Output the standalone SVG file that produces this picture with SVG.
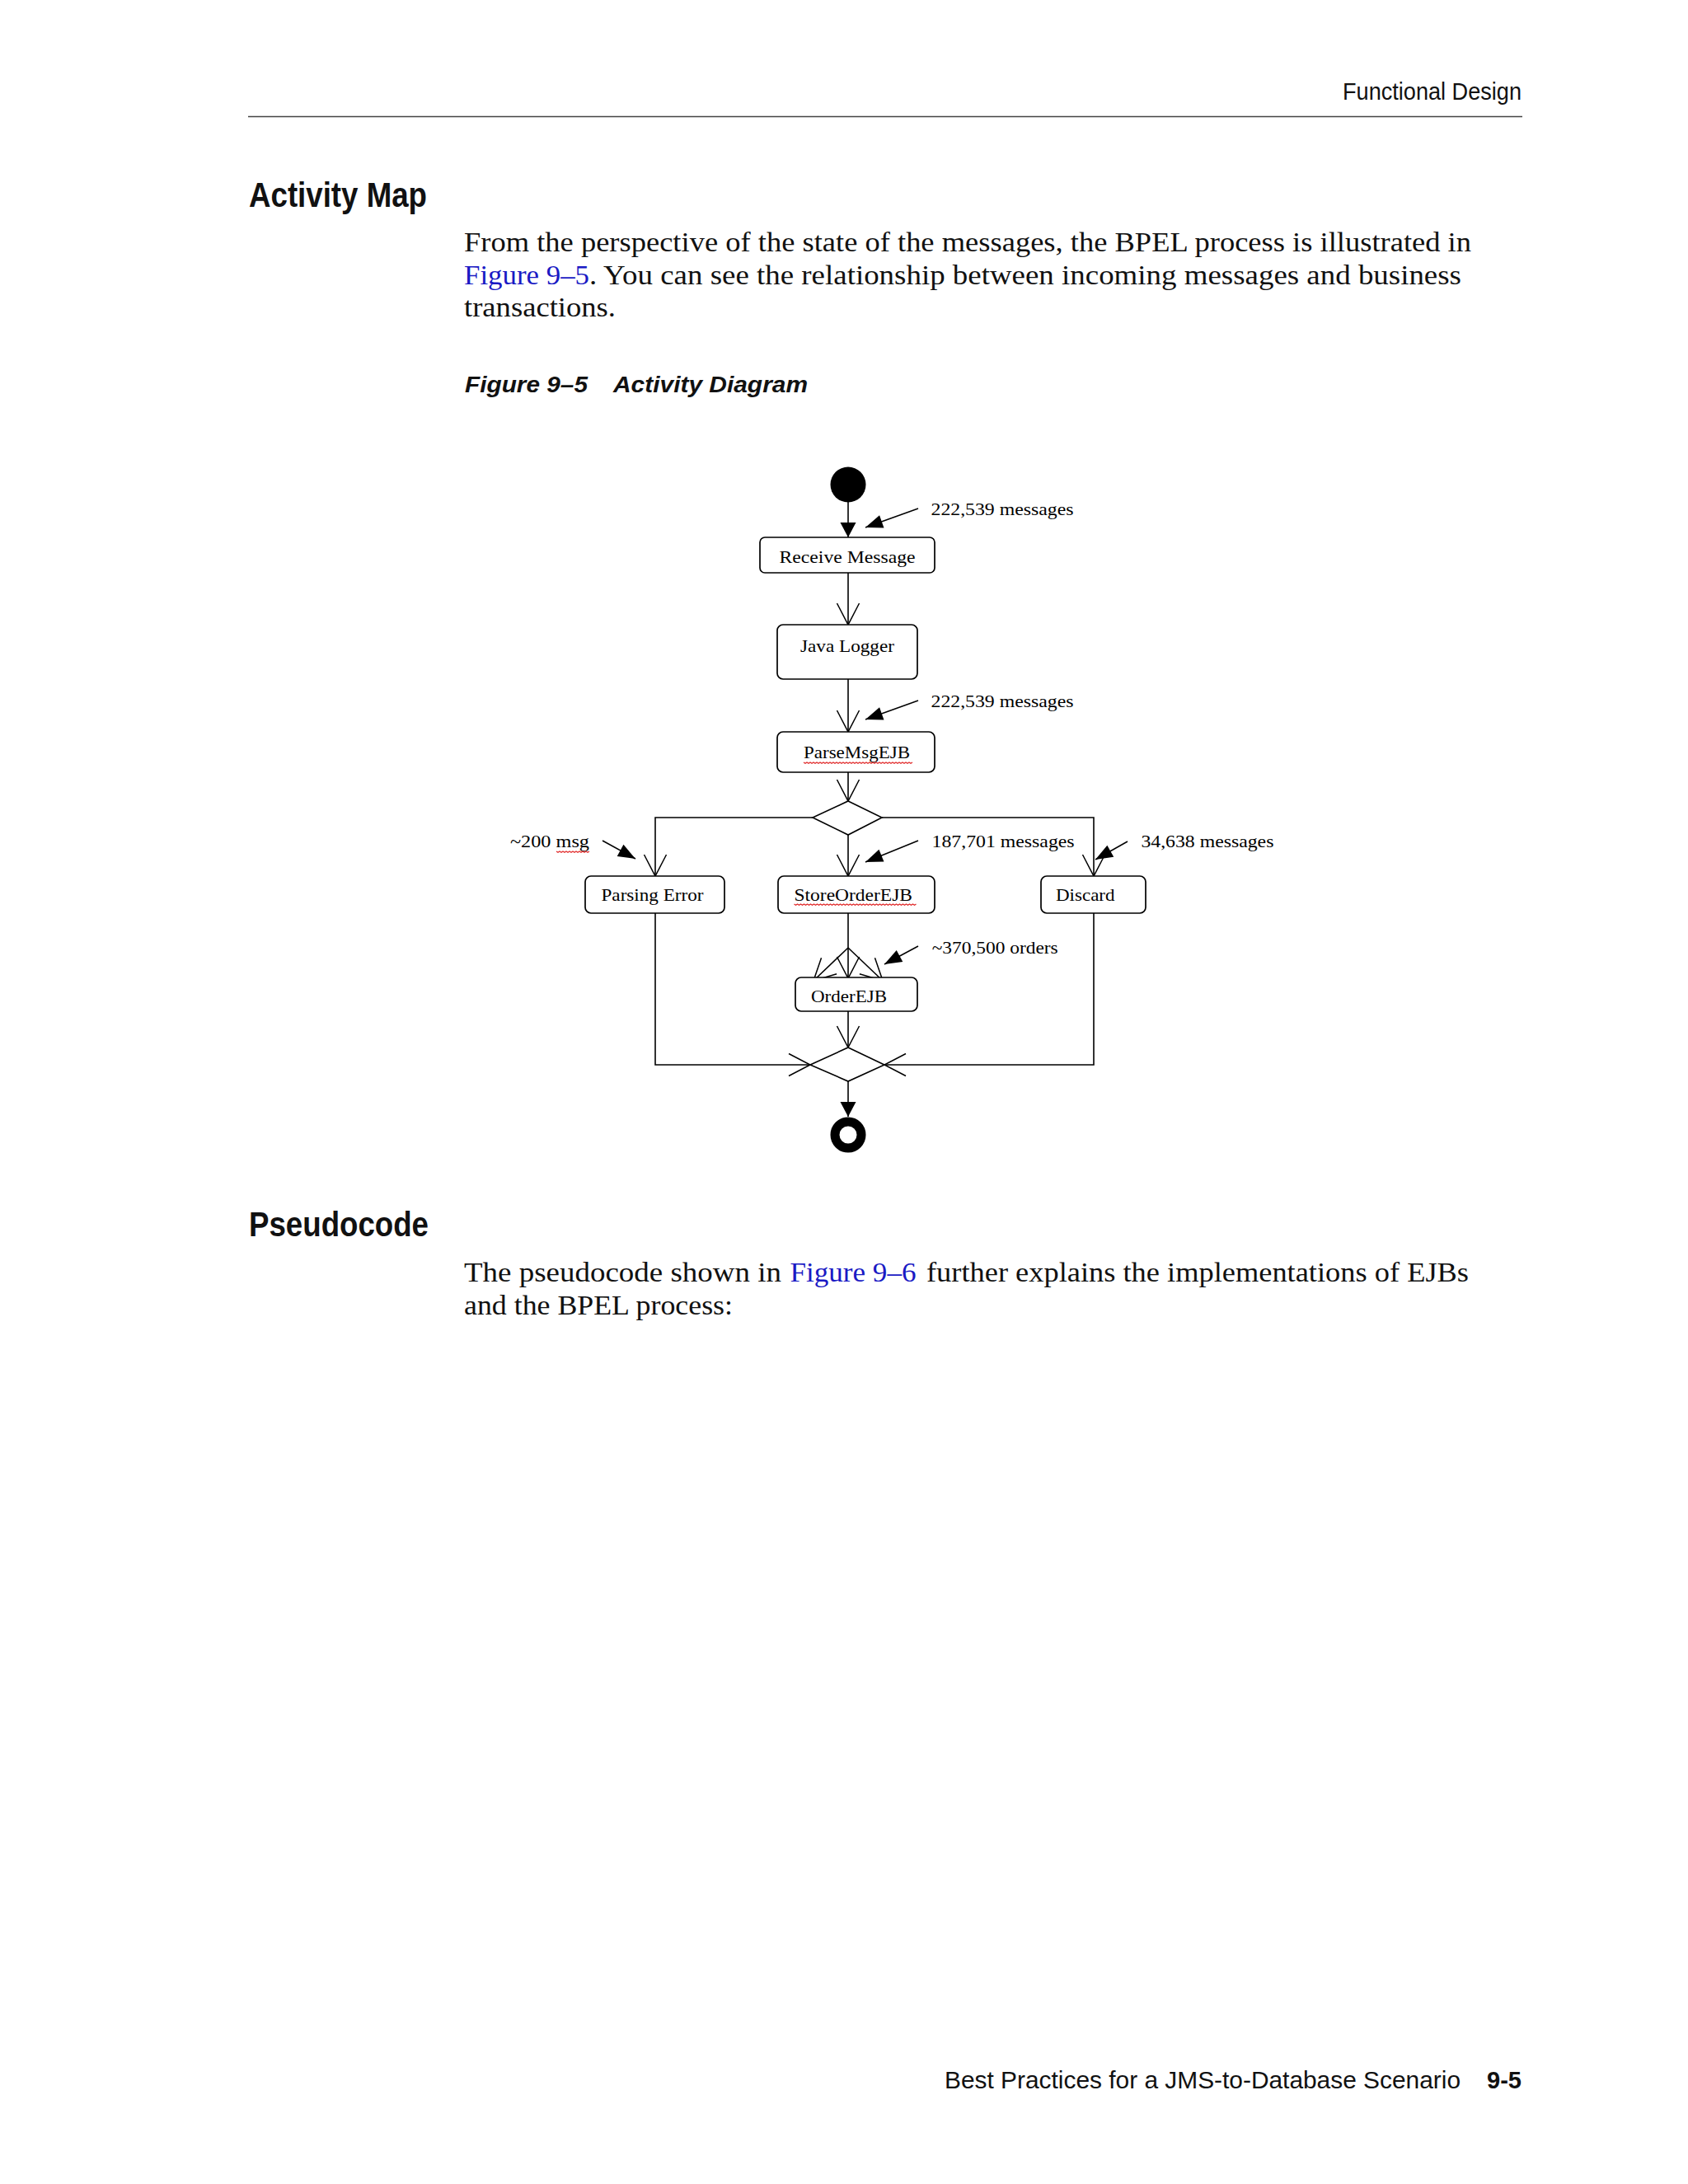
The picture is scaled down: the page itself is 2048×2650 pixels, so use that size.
<svg xmlns="http://www.w3.org/2000/svg" width="2048" height="2650" viewBox="0 0 2048 2650">
<style>
.hdr{font-family:"Liberation Sans",Arial,sans-serif;font-size:29px;fill:#111}
.h2{font-family:"Liberation Sans",Arial,sans-serif;font-size:42px;font-weight:bold;fill:#111}
.body{font-family:"Liberation Serif","Times New Roman",serif;font-size:33px;fill:#111}
.link{font-family:"Liberation Serif","Times New Roman",serif;font-size:33px;fill:#1a1ac4}
.cap{font-family:"Liberation Sans",Arial,sans-serif;font-size:28px;font-weight:bold;font-style:italic;fill:#111}
.foot{font-family:"Liberation Sans",Arial,sans-serif;font-size:29px;fill:#111}
.footb{font-family:"Liberation Sans",Arial,sans-serif;font-size:29px;font-weight:bold;fill:#111}
.lbl{font-family:"Liberation Serif","Times New Roman",serif;font-size:21px;fill:#000}
.box{fill:#fff;stroke:#000;stroke-width:1.7}
.conn{fill:none;stroke:#000;stroke-width:1.6}
.ann{fill:none;stroke:#000;stroke-width:1.5}
.sq{fill:none;stroke:#e02828;stroke-width:1.2}
</style>
<defs>
<marker id="open" markerUnits="userSpaceOnUse" markerWidth="30" markerHeight="30" refX="28" refY="15" orient="auto" overflow="visible">
<path d="M2,1.5 L28,15 L2,28.5" fill="none" stroke="#000" stroke-width="1.5"/>
</marker>
<marker id="solid" markerUnits="userSpaceOnUse" markerWidth="20" markerHeight="20" refX="18" refY="10" orient="auto" overflow="visible">
<path d="M0,0.5 L18,10 L0,19.5 Z" fill="#000"/>
</marker>
<marker id="annhead" markerUnits="userSpaceOnUse" markerWidth="22" markerHeight="18" refX="21" refY="9" orient="auto" overflow="visible">
<path d="M0,1 L21,9 L0,17 Z" fill="#000"/>
</marker>
</defs>
<rect x="0" y="0" width="2048" height="2650" fill="#fff"/>

<g id="page-header">
<text class="hdr" x="1629" y="121" textLength="217" lengthAdjust="spacingAndGlyphs">Functional Design</text>
<line x1="301" y1="141.5" x2="1847" y2="141.5" stroke="#444" stroke-width="1.6"/>
</g>

<g id="section-activity-map">
<text class="h2" x="302" y="251" textLength="216" lengthAdjust="spacingAndGlyphs">Activity Map</text>
<text class="body" x="563" y="305" textLength="1222" lengthAdjust="spacingAndGlyphs">From the perspective of the state of the messages, the BPEL process is illustrated in</text>
<text class="link" x="563" y="345" textLength="152" lengthAdjust="spacingAndGlyphs">Figure 9–5</text>
<text class="body" x="715" y="345" textLength="1058" lengthAdjust="spacingAndGlyphs">. You can see the relationship between incoming messages and business</text>
<text class="body" x="563" y="384" textLength="184" lengthAdjust="spacingAndGlyphs">transactions.</text>
<text class="cap" x="564" y="476" textLength="149" lengthAdjust="spacingAndGlyphs">Figure 9–5</text>
<text class="cap" x="744" y="476" textLength="236" lengthAdjust="spacingAndGlyphs">Activity Diagram</text>
</g>

<g id="connectors">
<path class="conn" d="M1029,609 L1029,652" marker-end="url(#solid)"/>
<path class="conn" d="M1029,695 L1029,758" marker-end="url(#open)"/>
<path class="conn" d="M1029,824 L1029,888" marker-end="url(#open)"/>
<path class="conn" d="M1029,937 L1029,972" marker-end="url(#open)"/>
<path class="conn" d="M986,992 L795,992 L795,1063" marker-end="url(#open)"/>
<path class="conn" d="M1029,1013 L1029,1063" marker-end="url(#open)"/>
<path class="conn" d="M1070,992 L1327,992 L1327,1063" marker-end="url(#open)"/>
<path class="conn" d="M1029,1108 L1029,1150"/>
<path class="conn" d="M1029,1150 L987,1190" marker-end="url(#open)"/>
<path class="conn" d="M1029,1150 L1029,1187" marker-end="url(#open)"/>
<path class="conn" d="M1029,1150 L1071,1190" marker-end="url(#open)"/>
<path class="conn" d="M1029,1227 L1029,1271" marker-end="url(#open)"/>
<path class="conn" d="M795,1108 L795,1292 L983,1292" marker-end="url(#open)"/>
<path class="conn" d="M1327,1108 L1327,1292 L1073,1292" marker-end="url(#open)"/>
<path class="conn" d="M1029,1312 L1029,1355" marker-end="url(#solid)"/>
<path class="ann" d="M1114,617 L1050,640" marker-end="url(#annhead)"/>
<path class="ann" d="M1114,850 L1050,873" marker-end="url(#annhead)"/>
<path class="ann" d="M731,1020 L771,1042" marker-end="url(#annhead)"/>
<path class="ann" d="M1114,1020 L1050,1046" marker-end="url(#annhead)"/>
<path class="ann" d="M1368,1021 L1329,1043" marker-end="url(#annhead)"/>
<path class="ann" d="M1114,1148 L1073,1170" marker-end="url(#annhead)"/>
</g>

<g id="node-start">
<circle cx="1029" cy="588" r="21.5" fill="#000"/>
</g>
<g id="node-receive-message">
<rect class="box" x="922" y="652" width="212" height="43" rx="6"/>
<text class="lbl" x="945.5" y="683" textLength="165" lengthAdjust="spacingAndGlyphs">Receive Message</text>
</g>
<g id="node-java-logger">
<rect class="box" x="943" y="758" width="170" height="66" rx="7"/>
<text class="lbl" x="971" y="791" textLength="114" lengthAdjust="spacingAndGlyphs">Java Logger</text>
</g>
<g id="node-parsemsgejb">
<rect class="box" x="943" y="888" width="191" height="49" rx="7"/>
<text class="lbl" x="975" y="920" textLength="129" lengthAdjust="spacingAndGlyphs">ParseMsgEJB</text>
<path class="sq" d="M975,925 l2,1.3 2,-1.3 2,1.3 2,-1.3 2,1.3 2,-1.3 2,1.3 2,-1.3 2,1.3 2,-1.3 2,1.3 2,-1.3 2,1.3 2,-1.3 2,1.3 2,-1.3 2,1.3 2,-1.3 2,1.3 2,-1.3 2,1.3 2,-1.3 2,1.3 2,-1.3 2,1.3 2,-1.3 2,1.3 2,-1.3 2,1.3 2,-1.3 2,1.3 2,-1.3 2,1.3 2,-1.3 2,1.3 2,-1.3 2,1.3 2,-1.3 2,1.3 2,-1.3 2,1.3 2,-1.3 2,1.3 2,-1.3 2,1.3 2,-1.3 2,1.3 2,-1.3 2,1.3 2,-1.3 2,1.3 2,-1.3 2,1.3 2,-1.3 2,1.3 2,-1.3 2,1.3 2,-1.3 2,1.3 2,-1.3 2,1.3 2,-1.3 2,1.3 2,-1.3 2,1.3 2,-1.3"/>
</g>
<g id="node-decision">
<polygon points="1029,972 1070,992 1029,1013 986,992" fill="#fff" stroke="#000" stroke-width="1.6"/>
</g>
<g id="node-parsing-error">
<rect class="box" x="710" y="1063" width="169" height="45" rx="7"/>
<text class="lbl" x="729.5" y="1093" textLength="124" lengthAdjust="spacingAndGlyphs">Parsing Error</text>
</g>
<g id="node-storeorderejb">
<rect class="box" x="944" y="1063" width="190" height="45" rx="7"/>
<text class="lbl" x="963.5" y="1093" textLength="143.5" lengthAdjust="spacingAndGlyphs">StoreOrderEJB</text>
<path class="sq" d="M963.5,1097 l2,1.3 2,-1.3 2,1.3 2,-1.3 2,1.3 2,-1.3 2,1.3 2,-1.3 2,1.3 2,-1.3 2,1.3 2,-1.3 2,1.3 2,-1.3 2,1.3 2,-1.3 2,1.3 2,-1.3 2,1.3 2,-1.3 2,1.3 2,-1.3 2,1.3 2,-1.3 2,1.3 2,-1.3 2,1.3 2,-1.3 2,1.3 2,-1.3 2,1.3 2,-1.3 2,1.3 2,-1.3 2,1.3 2,-1.3 2,1.3 2,-1.3 2,1.3 2,-1.3 2,1.3 2,-1.3 2,1.3 2,-1.3 2,1.3 2,-1.3 2,1.3 2,-1.3 2,1.3 2,-1.3 2,1.3 2,-1.3 2,1.3 2,-1.3 2,1.3 2,-1.3 2,1.3 2,-1.3 2,1.3 2,-1.3 2,1.3 2,-1.3 2,1.3 2,-1.3 2,1.3 2,-1.3 2,1.3 2,-1.3 2,1.3 2,-1.3 2,1.3 2,-1.3 2,1.3 2,-1.3"/>
</g>
<g id="node-discard">
<rect class="box" x="1263" y="1063" width="127" height="45" rx="7"/>
<text class="lbl" x="1281" y="1093" textLength="71.5" lengthAdjust="spacingAndGlyphs">Discard</text>
</g>
<g id="node-orderejb">
<rect class="box" x="965" y="1186" width="148" height="41" rx="7"/>
<text class="lbl" x="984" y="1216" textLength="92" lengthAdjust="spacingAndGlyphs">OrderEJB</text>
</g>
<g id="node-merge">
<polygon points="1029,1271 1073,1292 1029,1312 983,1292" fill="#fff" stroke="#000" stroke-width="1.6"/>
</g>
<g id="node-end">
<circle cx="1029" cy="1377" r="16" fill="#fff" stroke="#000" stroke-width="11"/>
</g>

<g id="annotations">
<text class="lbl" x="1129.5" y="625" textLength="173" lengthAdjust="spacingAndGlyphs">222,539 messages</text>
<text class="lbl" x="1129.5" y="858" textLength="173" lengthAdjust="spacingAndGlyphs">222,539 messages</text>
<text class="lbl" x="619" y="1028" textLength="96" lengthAdjust="spacingAndGlyphs">~200 msg</text>
<path class="sq" d="M675,1033 l2,1.3 2,-1.3 2,1.3 2,-1.3 2,1.3 2,-1.3 2,1.3 2,-1.3 2,1.3 2,-1.3 2,1.3 2,-1.3 2,1.3 2,-1.3 2,1.3 2,-1.3 2,1.3 2,-1.3 2,1.3 2,-1.3"/>
<text class="lbl" x="1130.6" y="1028" textLength="173" lengthAdjust="spacingAndGlyphs">187,701 messages</text>
<text class="lbl" x="1384.4" y="1028" textLength="161" lengthAdjust="spacingAndGlyphs">34,638 messages</text>
<text class="lbl" x="1130.7" y="1157" textLength="153" lengthAdjust="spacingAndGlyphs">~370,500 orders</text>
</g>

<g id="section-pseudocode">
<text class="h2" x="302" y="1500" textLength="218" lengthAdjust="spacingAndGlyphs">Pseudocode</text>
<text class="body" x="563" y="1555" textLength="385" lengthAdjust="spacingAndGlyphs">The pseudocode shown in</text>
<text class="link" x="958.5" y="1555" textLength="153" lengthAdjust="spacingAndGlyphs">Figure 9–6</text>
<text class="body" x="1124" y="1555" textLength="658" lengthAdjust="spacingAndGlyphs">further explains the implementations of EJBs</text>
<text class="body" x="563" y="1595" textLength="326" lengthAdjust="spacingAndGlyphs">and the BPEL process:</text>
</g>

<g id="page-footer">
<text class="foot" x="1146" y="2534" textLength="626" lengthAdjust="spacingAndGlyphs">Best Practices for a JMS-to-Database Scenario</text>
<text class="footb" x="1804" y="2534" textLength="42" lengthAdjust="spacingAndGlyphs">9-5</text>
</g>
</svg>
